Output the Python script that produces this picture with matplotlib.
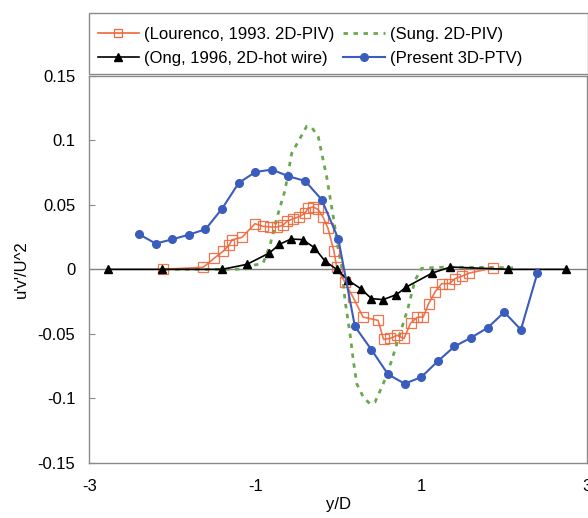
import numpy as np
import matplotlib
matplotlib.use("Agg")
import matplotlib.pyplot as plt
from matplotlib.patches import Rectangle
from matplotlib.lines import Line2D

plt.rcParams['font.family'] = ['Liberation Sans', 'DejaVu Sans']

# Lourenco, 1993, 2D-PIV
lou_x = [-2.116, -1.627, -1.498, -1.389, -1.317, -1.281, -1.161, -1.004, -0.908, -0.823,
         -0.739, -0.667, -0.618, -0.546, -0.474, -0.402, -0.365, -0.305, -0.245, -0.184,
         -0.124, -0.052, -0.019, 0.081, 0.178, 0.298, 0.479, 0.545, 0.623, 0.707,
         0.792, 0.870, 0.948, 1.024, 1.087, 1.165, 1.246, 1.337, 1.406, 1.487,
         1.578, 1.867]
lou_y = [0.0, 0.0016, 0.0085, 0.014, 0.0186, 0.0229, 0.0248, 0.0354, 0.0334, 0.0329,
         0.0329, 0.0342, 0.0373, 0.0392, 0.0408, 0.0435, 0.0474, 0.0484, 0.0466, 0.0406,
         0.0318, 0.0140, 0.0016, -0.0101, -0.0217, -0.0370, -0.0396, -0.0543, -0.0536, -0.0512,
         -0.0536, -0.0419, -0.0373, -0.0369, -0.0268, -0.0176, -0.0111, -0.0111, -0.0072, -0.0054,
         -0.0029, 0.0012]

# Sung, 2D-PIV
sung_x = [-2.088, -1.546, -1.305, -1.100, -1.028, -0.907, -0.823, -0.738, -0.642, -0.561,
          -0.441, -0.381, -0.317, -0.241, -0.140, -0.060, -0.012, 0.041, 0.081, 0.141,
          0.181, 0.222, 0.301, 0.381, 0.442, 0.542, 0.643, 0.743, 0.843, 0.924,
          1.005, 1.225, 1.707, 2.105]
sung_y = [0.0, 0.0, 0.0, 0.0004, 0.0031, 0.0047, 0.0186, 0.0404, 0.0613, 0.0901,
          0.1040, 0.1110, 0.1099, 0.1027, 0.0717, 0.0406, 0.0200, 0.0018, -0.0241, -0.0499,
          -0.0707, -0.0887, -0.0991, -0.1043, -0.1030, -0.0887, -0.0707, -0.0499, -0.0293, -0.0085,
          0.0008, 0.0016, 0.0016, 0.0012]

# Ong, 1996, 2D-hot wire
ong_x = [-2.78, -2.12, -1.40, -1.10, -0.83, -0.71, -0.57, -0.43, -0.29, -0.16,
         -0.02, 0.12, 0.27, 0.40, 0.54, 0.70, 0.82, 1.13, 1.35, 2.05, 2.74]
ong_y = [0.0, 0.0, 0.0, 0.0039, 0.0127, 0.0194, 0.0235, 0.0231, 0.0169, 0.0064,
         0.0, -0.0085, -0.0150, -0.0227, -0.0235, -0.0196, -0.0137, -0.0029, 0.0018, 0.0, 0.0]

# Present 3D-PTV
ptv_x = [-2.4, -2.2, -2.0, -1.8, -1.6, -1.4, -1.2, -1.0, -0.8, -0.6, -0.4, -0.2, 0.0,
         0.2, 0.4, 0.6, 0.8, 1.0, 1.2, 1.4, 1.6, 1.8, 2.0, 2.2, 2.4]
ptv_y = [0.0272, 0.0200, 0.0233, 0.0269, 0.0311, 0.0471, 0.0670, 0.0755, 0.0774, 0.0722,
         0.0686, 0.0541, 0.0237, -0.0443, -0.0624, -0.0815, -0.0887, -0.0836, -0.0712, -0.0598,
         -0.0530, -0.0453, -0.0332, -0.0468, -0.0026]

orange = '#f0663a'
green = '#6aa84f'
blue = '#3a5dbd'
frame_gray = '#8a8a8a'
fs = 12

W, H = 588, 518
fig = plt.figure(figsize=(W / 100, H / 100), dpi=100)
ax = fig.add_axes([89.3 / W, 1 - 462.7 / H, (587.3 - 89.3) / W, (462.7 - 76) / H])

ax.axhline(0, color='#808080', lw=1.0, zorder=1)

dash = (0, (1.6, 2.0))
ax.plot(sung_x, sung_y, color=green, lw=2.0, ls=dash, zorder=2)
ax.plot(lou_x, lou_y, color=orange, lw=1.2, marker='s', ms=6.5, mfc='none',
        mec=orange, mew=0.9, alpha=0.9, zorder=3)
ax.plot(ong_x, ong_y, color='black', lw=1.2, marker='^', ms=6, zorder=4)
ax.plot(ptv_x, ptv_y, color=blue, lw=1.5, marker='o', ms=5.5, zorder=5)

ax.set_xlim(-3, 3)
ax.set_ylim(-0.15, 0.15)
ax.set_xticks([-3, -1, 1, 3])
ax.set_xticklabels(['-3', '-1', '1', '3'])
ax.set_yticks([-0.15, -0.1, -0.05, 0, 0.05, 0.1, 0.15])
ax.set_yticklabels(['-0.15', '-0.1', '-0.05', '0', '0.05', '0.1', '0.15'])
ax.tick_params(axis='y', direction='in', length=4, width=0.8, color=frame_gray,
               labelsize=fs, pad=10)
ax.tick_params(axis='x', length=0, labelsize=fs, pad=12)
for s in ax.spines.values():
    s.set_color(frame_gray)
    s.set_linewidth(1.0)
ax.set_xlabel('y/D', fontsize=fs, labelpad=2)
ax.set_ylabel("u'v'/U^2", fontsize=fs, labelpad=6)

handles = [
    Line2D([], [], color=orange, lw=1.2, marker='s', ms=6, mfc='none', mec=orange, mew=0.9),
    Line2D([], [], color='black', lw=1.2, marker='^', ms=6),
    Line2D([], [], color=green, lw=2.0, ls=dash),
    Line2D([], [], color=blue, lw=1.5, marker='o', ms=5.5),
]
labels = ['(Lourenco, 1993. 2D-PIV)', '(Ong, 1996, 2D-hot wire)',
          '(Sung. 2D-PIV)', '(Present 3D-PTV)']
fig.legend(handles, labels, ncol=2, loc='upper left',
           bbox_to_anchor=(86 / W, 1 - 15 / H), frameon=False,
           fontsize=fs, handlelength=2.5, handletextpad=0.3,
           columnspacing=0.5, labelspacing=0.55, borderpad=0.2)
fig.patches.append(Rectangle((89 / W, 1 - 74 / H), (587.5 - 89) / W, 61 / H,
                             transform=fig.transFigure, fill=False,
                             edgecolor=frame_gray, lw=1.0))

fig.savefig('out.png', dpi=100)
